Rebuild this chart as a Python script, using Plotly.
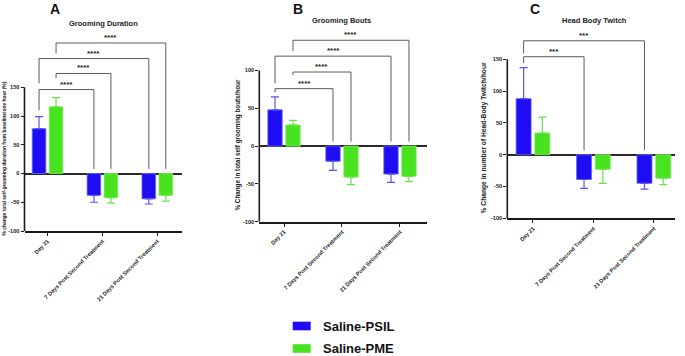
import plotly.graph_objects as go

W, H = 685, 356

categories = ["Day 21", "7 Days Post Second Treatment", "21 Days Post Second Treatment"]
series_names = ["Saline-PSIL", "Saline-PME"]

# Panel A: Grooming Duration
psil_A = [78, -38, -44]
psil_A_sem = [21, 12, 9]
pme_A = [116, -42, -38]
pme_A_sem = [16, 9, 10]

# Panel B: Grooming Bouts
psil_B = [48, -20, -37]
psil_B_sem = [17, 12, 11]
pme_B = [28, -41, -40]
pme_B_sem = [6, 10, 7]

# Panel C: Head Body Twitch
psil_C = [88, -39, -45]
psil_C_sem = [49, 14, 9]
pme_C = [34, -23, -37]
pme_C_sem = [25, 22, 10]

y_ticks_A = [-100, -50, 0, 50, 100, 150]
y_ticks_B = [-100, -50, 0, 50, 100]
y_ticks_C = [-100, -50, 0, 50, 100, 150]

# significance brackets: (left cat, left series, right cat, right series, top, left leg end, right leg end, label)
brackets_A = [
    (0, 0, 1, 0, 146, 110, 8, "****"),
    (0, 1, 1, 1, 174, 166, 8, "****"),
    (0, 0, 2, 0, 200, 157, 8, "****"),
    (0, 1, 2, 1, 227, 209, 8, "****"),
]
brackets_B = [
    (0, 0, 1, 0, 76, 71, 6, "****"),
    (0, 1, 1, 1, 98, 94, 6, "****"),
    (0, 0, 2, 0, 119, 83, 6, "****"),
    (0, 1, 2, 1, 140, 126, 6, "****"),
]
brackets_C = [
    (0, 0, 1, 0, 154, 144, 7, "***"),
    (0, 0, 2, 0, 179, 159, 7, "***"),
]

titles = ["Grooming Duration", "Grooming Bouts", "Head Body Twitch"]
letters = ["A", "B", "C"]
y_titles = [
    "% change total self-grooming duration from baseline/one hour (%)",
    "% Change in total self grooming bouts/hour",
    "% Change in number of Head-Body Twitch/hour",
]

BLUE, BLUE_LINE, BLUE_ERR = "#1E0CF2", "#6A64F4", "#5A55F0"
GREEN, GREEN_LINE, GREEN_ERR = "#48E21E", "#80EA62", "#6BE04F"
BRK = "#5a5a5a"
FONT = "Liberation Sans, Arial, sans-serif"

BARGAP = 0.38
BARGROUPGAP = 0.2
slot = (1 - BARGAP) / 2
offsets = [-slot / 2, slot / 2]

def px_x(p):
    return p / W

def px_y(p):
    return 1 - p / H

panels = [
    dict(psil=psil_A, psil_sem=psil_A_sem, pme=pme_A, pme_sem=pme_A_sem, yticks=y_ticks_A,
         xdom=(24.5, 182), xrange=(-0.42, 2.45), ydom=(30, 231), yrange=(-100, 249.6),
         ytop=150, brackets=brackets_A, title_xy=(103, 24), letter_xy=(55, 9),
         ytitle_xy=(4.5, 159), ytitle_size=4.9),
    dict(psil=psil_B, psil_sem=psil_B_sem, pme=pme_B, pme_sem=pme_B_sem, yticks=y_ticks_B,
         xdom=(259.3, 427), xrange=(-0.426, 2.466), ydom=(30, 221.7), yrange=(-100, 153.6),
         ytop=100, brackets=brackets_B, title_xy=(341.7, 20), letter_xy=(298, 9),
         ytitle_xy=(237, 145.5), ytitle_size=6.3),
    dict(psil=psil_C, psil_sem=psil_C_sem, pme=pme_C, pme_sem=pme_C_sem, yticks=y_ticks_C,
         xdom=(507.3, 675), xrange=(-0.425, 2.35), ydom=(30, 218.3), yrange=(-100, 196),
         ytop=150, brackets=brackets_C, title_xy=(594, 21), letter_xy=(535, 9),
         ytitle_xy=(483, 138.5), ytitle_size=6.7),
]

def err_arrays(vals, sem):
    plus = [s if v >= 0 else 0 for v, s in zip(vals, sem)]
    minus = [0 if v >= 0 else s for v, s in zip(vals, sem)]
    return plus, minus

fig = go.Figure()
shapes = []
annotations = []

for i, p in enumerate(panels):
    n = "" if i == 0 else str(i + 1)
    xa, ya = "x" + n, "y" + n
    for vals, sem, name, col, lcol, ecol in [
        (p["psil"], p["psil_sem"], series_names[0], BLUE, BLUE_LINE, BLUE_ERR),
        (p["pme"], p["pme_sem"], series_names[1], GREEN, GREEN_LINE, GREEN_ERR),
    ]:
        plus, minus = err_arrays(vals, sem)
        fig.add_trace(go.Bar(
            x=categories, y=vals, name=name, xaxis=xa, yaxis=ya, offsetgroup=name,
            marker=dict(color=col, line=dict(color=lcol, width=0.8)),
            error_y=dict(type="data", symmetric=False, array=plus, arrayminus=minus,
                         color=ecol, thickness=1.2, width=4),
            showlegend=False,
        ))
    axkey = "xaxis" + n
    aykey = "yaxis" + n
    fig.layout[axkey] = dict(
        domain=[px_x(p["xdom"][0]), px_x(p["xdom"][1])], anchor=ya,
        type="category", range=list(p["xrange"]), showgrid=False, zeroline=False,
        showline=True, linecolor="#1a1a1a", linewidth=1.6,
        ticks="outside", ticklen=3, tickwidth=1, tickcolor="#1a1a1a",
        tickangle=-45, automargin=False,
        tickfont=dict(family=FONT, size=5.6, color="#222", weight="bold"),
    )
    fig.layout[aykey] = dict(
        domain=[px_y(p["ydom"][1]), px_y(p["ydom"][0])], anchor=xa,
        range=list(p["yrange"]), showgrid=False, showline=False,
        zeroline=True, zerolinecolor="#2a2a2a", zerolinewidth=1.6,
        tickvals=p["yticks"], ticktext=[str(t) for t in p["yticks"]],
        ticks="outside", ticklen=3, tickwidth=1, tickcolor="#1a1a1a", automargin=False,
        tickfont=dict(family=FONT, size=5.6, color="#222", weight="bold"),
    )
    # y-axis line only across the tick range
    shapes.append(dict(type="line", xref=xa + " domain", yref=ya, x0=0, x1=0,
                       y0=p["yticks"][0], y1=p["ytop"],
                       line=dict(color="#1a1a1a", width=1.6)))
    # brackets
    for (lc, ls, rc, rs, top, lb, rb, lab) in p["brackets"]:
        x0 = lc + offsets[ls]
        x1 = rc + offsets[rs]
        for (ax0, ay0, ax1, ay1) in [(x0, lb, x0, top), (x0, top, x1, top), (x1, top, x1, rb)]:
            shapes.append(dict(type="line", xref=xa, yref=ya, x0=ax0, y0=ay0, x1=ax1, y1=ay1,
                               line=dict(color=BRK, width=1)))
        annotations.append(dict(x=(x0 + x1) / 2, y=top, xref=xa, yref=ya, text="<b>" + lab + "</b>",
                                showarrow=False, yanchor="bottom", yshift=-1,
                                font=dict(family=FONT, size=8, color="#222")))
    # titles
    annotations.append(dict(x=px_x(p["title_xy"][0]), y=px_y(p["title_xy"][1]), xref="paper", yref="paper",
                            text="<b>" + titles[i] + "</b>", showarrow=False,
                            xanchor="center", yanchor="middle",
                            font=dict(family=FONT, size=7.5, color="#222")))
    annotations.append(dict(x=px_x(p["letter_xy"][0]), y=px_y(p["letter_xy"][1]), xref="paper", yref="paper",
                            text="<b>" + letters[i] + "</b>", showarrow=False,
                            xanchor="center", yanchor="middle",
                            font=dict(family=FONT, size=14, color="#111")))
    annotations.append(dict(x=px_x(p["ytitle_xy"][0]), y=px_y(p["ytitle_xy"][1]), xref="paper", yref="paper",
                            text="<b>" + y_titles[i] + "</b>", showarrow=False, textangle=-90,
                            xanchor="center", yanchor="middle",
                            font=dict(family=FONT, size=p["ytitle_size"], color="#222")))

# legend (drawn)
legend_items = [(series_names[0], BLUE, 326), (series_names[1], GREEN, 348.5)]
for name, col, yc in legend_items:
    shapes.append(dict(type="rect", xref="paper", yref="paper",
                       x0=px_x(292.7), x1=px_x(310.7), y0=px_y(yc + 4.3), y1=px_y(yc - 4.3),
                       fillcolor=col, line=dict(width=0)))
    annotations.append(dict(x=px_x(320.5), y=px_y(yc), xref="paper", yref="paper",
                            text="<b>" + name + "</b>", showarrow=False,
                            xanchor="left", yanchor="middle",
                            font=dict(family=FONT, size=13, color="#111")))

fig.update_layout(
    width=W, height=H, margin=dict(l=0, r=0, t=0, b=0),
    paper_bgcolor="white", plot_bgcolor="white",
    barmode="group", bargap=BARGAP, bargroupgap=BARGROUPGAP,
    shapes=shapes, annotations=annotations, showlegend=False,
)

fig.write_html("out.html", config={"displayModeBar": False},
               post_script="document.body.style.margin='0';document.body.style.overflow='hidden';")
